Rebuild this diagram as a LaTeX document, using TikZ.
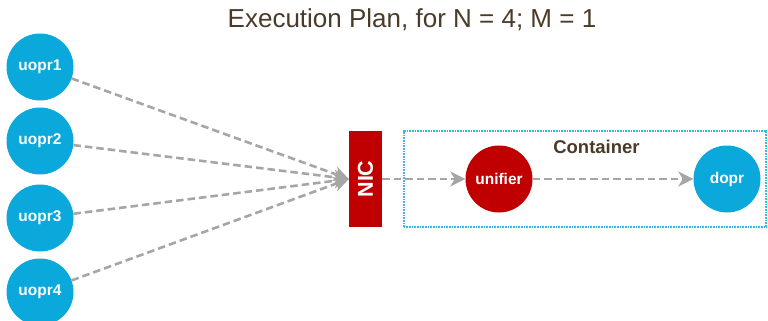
\documentclass[tikz,border=0pt]{standalone}
\usepackage{fontspec}
\setmainfont{Liberation Sans}
\usetikzlibrary{arrows.meta}
\definecolor{opblue}{HTML}{0AA8DB}
\definecolor{opred}{HTML}{C00000}
\definecolor{titlebrown}{HTML}{4A3B28}
\definecolor{flowgray}{HTML}{A6A6A6}
\begin{document}
\begin{tikzpicture}[x=1pt,y=-1pt,
  opnode/.style={circle,fill=opblue,draw=none,minimum size=67pt,inner sep=0pt,
    text=white,font=\bfseries\fontsize{15.5}{18}\selectfont},
  rednode/.style={opnode,fill=opred},
  flow/.style={draw=flowgray,line width=2.6pt,dash pattern=on 7.5pt off 4pt,
    -{Stealth[length=15pt,width=15pt,inset=4.5pt]}}]
\useasboundingbox (0,0) rectangle (768,321);
\node[font=\fontsize{26}{30}\selectfont,text=titlebrown] (title) at (412,20) {Execution Plan, for N = 4; M = 1};
\node[opnode] (u1) at (40,67) {uopr1};
\node[opnode] (u2) at (40,141) {uopr2};
\node[opnode] (u3) at (40,218) {uopr3};
\node[opnode] (u4) at (40,292) {uopr4};
\node[draw=opblue!80,dash pattern=on 1pt off 0.6pt,line width=1.1pt,minimum width=362pt,minimum height=96pt,
  inner sep=0pt] (cont) at (585,179) {};
\node[fill=opred,minimum width=33pt,minimum height=96pt,inner sep=0pt] (nic) at (365.5,179) {};
\node[rotate=90,text=white,font=\bfseries\fontsize{21.5}{24}\selectfont] (niclabel) at (nic.center) {NIC};
\node[font=\bfseries\fontsize{18.5}{21}\selectfont,text=titlebrown] (contlabel) at (596.5,147) {Container};
\node[rednode] (unif) at (499,179) {unifier};
\node[opnode] (dopr) at (727,179) {dopr};
\foreach \u in {u1,u2,u3,u4}
  \draw[flow] (\u) -- (nic.west);
\draw[flow] (nic.east) -- (unif);
\draw[flow] (unif) -- (dopr);
\end{tikzpicture}
\end{document}
